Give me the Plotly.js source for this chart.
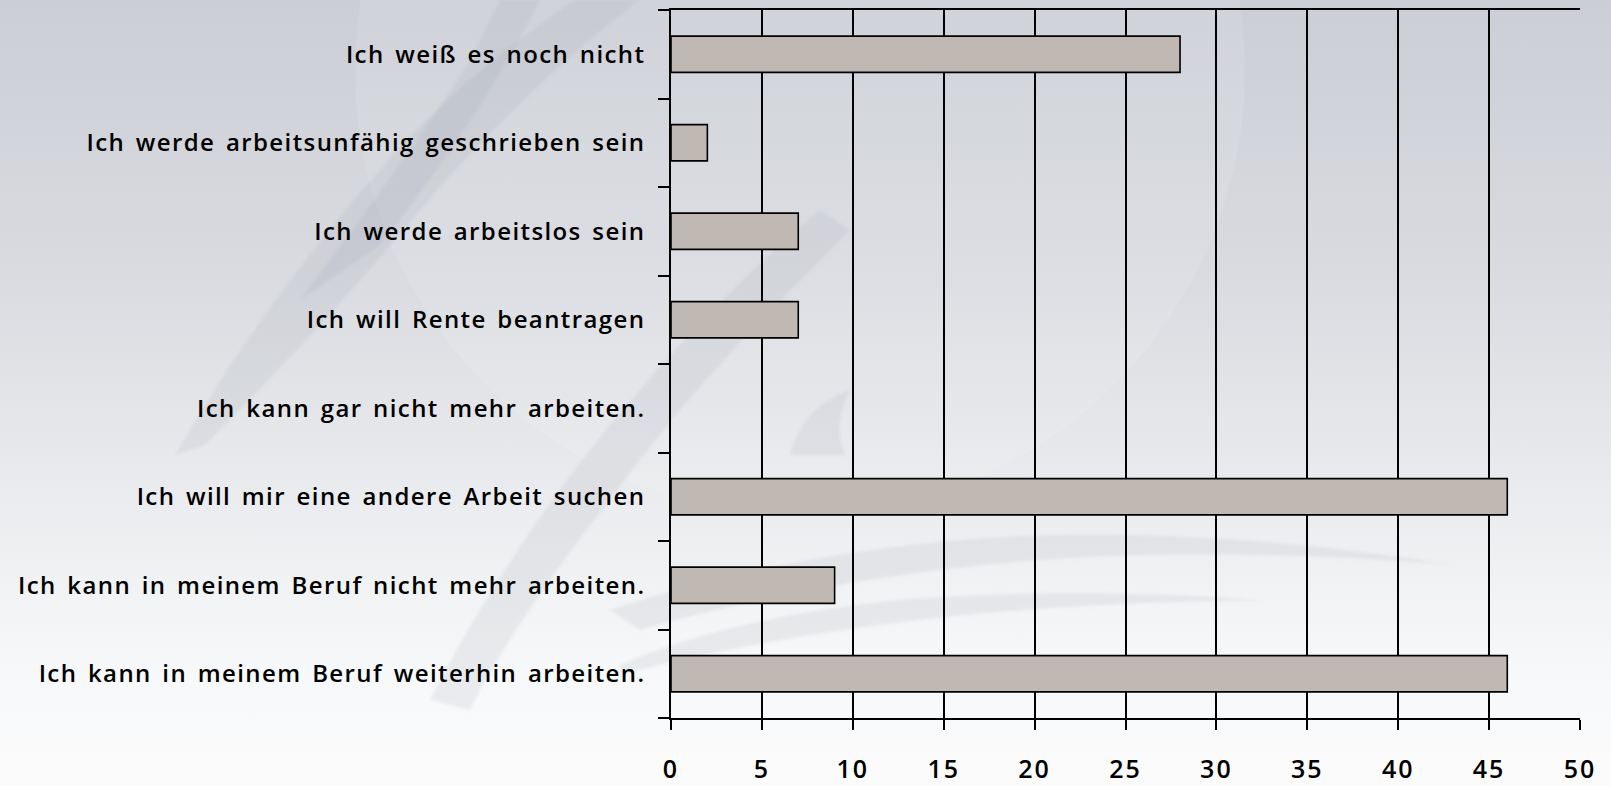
<!DOCTYPE html>
<html>
<head>
<meta charset="utf-8">
<script src="https://cdn.plot.ly/plotly-3.0.1.min.js"></script>
<style>
html,body{margin:0;padding:0;}
body{width:1611px;height:786px;overflow:hidden;position:relative;
background:linear-gradient(180deg,#cbced5 0%,#d9dbe0 35%,#eaebee 62%,#f7f8f9 85%,#fbfbfc 100%);}
#bg{position:absolute;left:0;top:0;width:1611px;height:786px;}
#chart{position:absolute;left:0;top:0;width:1611px;height:786px;}
.ytick text{letter-spacing:1.4px;word-spacing:3px;}
.xtick text{letter-spacing:2px;}
</style>
</head>
<body>
<svg id="bg" width="1611" height="786" viewBox="0 0 1611 786">
  <defs>
    <filter id="soft"><feGaussianBlur stdDeviation="1.5"/></filter>
  </defs>
  <circle cx="800" cy="70" r="445" fill="#ffffff" fill-opacity="0.10"/>
  <g fill="#9ea3ae" fill-opacity="0.16" filter="url(#soft)">
    <path d="M175,455 C230,360 300,260 380,170 C430,110 500,50 575,0 L640,0 C560,60 480,140 420,210 C350,295 270,380 205,445 Z"/>
    <path d="M300,300 C360,220 420,140 470,60 L500,0 L540,0 C500,80 440,170 380,245 Z"/>
    <path d="M430,700 C480,600 560,480 640,390 C700,320 760,260 820,210 L850,230 C780,300 700,380 640,460 C570,550 510,630 470,710 Z"/>
    <path d="M610,610 C760,560 950,530 1130,535 C1250,538 1350,548 1455,565 C1340,555 1220,552 1110,556 C950,562 780,590 640,630 Z"/>
    <path d="M790,455 C800,420 820,400 850,390 C840,410 835,430 845,455 Z"/>
    <path d="M620,665 C700,630 800,610 900,600 C1000,592 1120,590 1265,600 C1100,602 960,612 830,632 C740,646 670,662 620,675 Z"/>
  </g>
</svg>
<div id="chart"></div>
<script>
const categories = [
  "Ich kann in meinem Beruf weiterhin arbeiten.",
  "Ich kann in meinem Beruf nicht mehr arbeiten.",
  "Ich will mir eine andere Arbeit suchen",
  "Ich kann gar nicht mehr arbeiten.",
  "Ich will Rente beantragen",
  "Ich werde arbeitslos sein",
  "Ich werde arbeitsunfähig geschrieben sein",
  "Ich weiß es noch nicht"
];
const values = [46, 9, 46, 0, 7, 7, 2, 28];
const xTicks = [0, 5, 10, 15, 20, 25, 30, 35, 40, 45, 50];

const fontFam = "'Open Sans', 'DejaVu Sans', sans-serif";

const trace = {
  type: 'bar',
  orientation: 'h',
  y: categories,
  x: values,
  marker: {
    color: '#c0b8b2',
    line: {color: '#000000', width: values.map(v => v > 0 ? 1.6 : 0)}
  },
  hoverinfo: 'x+y'
};

const layout = {
  width: 1611,
  height: 786,
  paper_bgcolor: 'rgba(0,0,0,0)',
  plot_bgcolor: 'rgba(0,0,0,0)',
  margin: {l: 671, r: 31, t: 10, b: 68},
  bargap: 0.59,
  showlegend: false,
  font: {family: fontFam, color: '#000', size: 24},
  xaxis: {
    range: [0, 50],
    tickvals: xTicks,
    ticktext: xTicks.map(String),
    showgrid: true,
    gridcolor: '#000',
    gridwidth: 1.5,
    zeroline: false,
    showline: true,
    linecolor: '#000',
    linewidth: 1.6,
    mirror: true,
    ticks: 'outside',
    ticklen: 10,
    tickwidth: 1.5,
    tickcolor: '#000',
    ticklabelstandoff: 18,
    tickfont: {family: fontFam, size: 25, color: '#000', weight: 600}
  },
  yaxis: {
    type: 'category',
    categoryorder: 'array',
    categoryarray: categories,
    showgrid: false,
    zeroline: false,
    showline: true,
    linecolor: '#000',
    linewidth: 1.6,
    ticks: 'outside',
    tickson: 'boundaries',
    ticklen: 11,
    tickwidth: 1.5,
    tickcolor: '#000',
    ticklabelstandoff: 19,
    tickfont: {family: fontFam, size: 24, color: '#000', weight: 600}
  }
};

Plotly.newPlot('chart', [trace], layout, {displayModeBar: false});
</script>
</body>
</html>
